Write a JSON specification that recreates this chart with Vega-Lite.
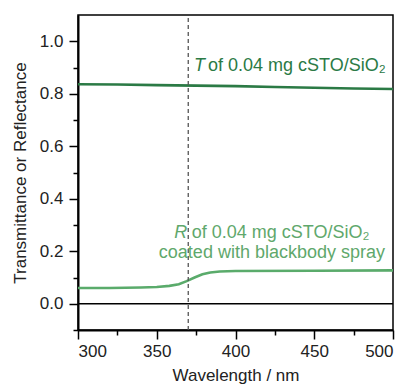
{
  "$schema": "https://vega.github.io/schema/vega-lite/v6.json",
  "width": 315,
  "height": 315,
  "autosize": "none",
  "padding": {"left": 78, "top": 15, "right": 18, "bottom": 57},
  "background": "white",
  "config": {
    "view": {"stroke": "black", "strokeWidth": 1.5},
    "font": "Liberation Sans",
    "axis": {
      "domainColor": "black",
      "domainWidth": 2,
      "tickColor": "black",
      "tickWidth": 1.5,
      "grid": false,
      "labelFont": "Liberation Sans",
      "labelFontSize": 17,
      "labelColor": "#222",
      "titleFont": "Liberation Sans",
      "titleFontSize": 17,
      "titleFontWeight": "normal",
      "titleColor": "#222"
    }
  },
  "datasets": {
    "spectra": [
      {"wavelength": 300, "value": 0.836, "series": "T"},
      {"wavelength": 325, "value": 0.835, "series": "T"},
      {"wavelength": 350, "value": 0.833, "series": "T"},
      {"wavelength": 375, "value": 0.831, "series": "T"},
      {"wavelength": 400, "value": 0.829, "series": "T"},
      {"wavelength": 425, "value": 0.826, "series": "T"},
      {"wavelength": 450, "value": 0.823, "series": "T"},
      {"wavelength": 475, "value": 0.820, "series": "T"},
      {"wavelength": 500, "value": 0.818, "series": "T"},
      {"wavelength": 300, "value": 0.060, "series": "R"},
      {"wavelength": 320, "value": 0.060, "series": "R"},
      {"wavelength": 340, "value": 0.062, "series": "R"},
      {"wavelength": 350, "value": 0.064, "series": "R"},
      {"wavelength": 358, "value": 0.068, "series": "R"},
      {"wavelength": 364, "value": 0.074, "series": "R"},
      {"wavelength": 369, "value": 0.086, "series": "R"},
      {"wavelength": 374, "value": 0.100, "series": "R"},
      {"wavelength": 379, "value": 0.112, "series": "R"},
      {"wavelength": 384, "value": 0.119, "series": "R"},
      {"wavelength": 390, "value": 0.123, "series": "R"},
      {"wavelength": 400, "value": 0.125, "series": "R"},
      {"wavelength": 450, "value": 0.126, "series": "R"},
      {"wavelength": 500, "value": 0.127, "series": "R"}
    ],
    "italic": [
      {"wavelength": 380.6, "value": 0.885, "text": "T", "color": "#2b7a45"},
      {"wavelength": 369.4, "value": 0.25, "text": "R", "color": "#5fa86c"}
    ],
    "plain": [
      {"wavelength": 382.5, "value": 0.885, "text": "of 0.04 mg cSTO/SiO₂", "color": "#2b7a45"},
      {"wavelength": 372.2, "value": 0.25, "text": "of 0.04 mg cSTO/SiO₂", "color": "#5fa86c"}
    ],
    "plainRight": [
      {"wavelength": 494.9, "value": 0.176, "text": "coated with blackbody spray", "color": "#5fa86c"}
    ]
  },
  "encoding": {
    "x": {
      "field": "wavelength",
      "type": "quantitative",
      "scale": {"domain": [300, 500], "nice": false, "zero": false},
      "axis": {
        "title": "Wavelength / nm",
        "values": [300, 325, 350, 375, 400, 425, 450, 475, 500],
        "labelExpr": "datum.value % 50 === 0 ? datum.label : ''",
        "tickSize": {"condition": {"test": "datum.value % 50 === 0", "value": 9}, "value": 5},
        "labelPadding": 4,
        "titlePadding": 8
      }
    },
    "y": {
      "field": "value",
      "type": "quantitative",
      "scale": {"domain": [-0.1, 1.1], "nice": false, "zero": false},
      "axis": {
        "title": "Transmittance or Reflectance",
        "values": [-0.1, 0, 0.1, 0.2, 0.3, 0.4, 0.5, 0.6, 0.7, 0.8, 0.9, 1.0],
        "labelExpr": "round(datum.value * 10) % 2 == 0 && datum.value > -0.05 ? format(datum.value, '.1f') : ''",
        "tickSize": {"condition": {"test": "abs(round(datum.value * 10)) % 2 == 0", "value": 9}, "value": 5},
        "labelPadding": 6,
        "titlePadding": 10
      }
    }
  },
  "layer": [
    {
      "data": {"name": "spectra"},
      "mark": {"type": "line", "strokeWidth": 2.6, "clip": true},
      "encoding": {
        "color": {
          "field": "series",
          "type": "nominal",
          "scale": {"domain": ["T", "R"], "range": ["#2b7a45", "#5aab6b"]},
          "legend": null
        }
      }
    },
    {
      "data": {"values": [{"wavelength": 300, "wavelength2": 500, "value": 0}]},
      "mark": {"type": "rule", "color": "black", "strokeWidth": 1.3},
      "encoding": {"x2": {"field": "wavelength2"}}
    },
    {
      "data": {"values": [{"wavelength": 370, "value": -0.1, "value2": 1.1}]},
      "mark": {"type": "rule", "color": "#555", "strokeWidth": 1.3, "strokeDash": [4, 3]},
      "encoding": {"y2": {"field": "value2"}}
    },
    {
      "data": {"name": "italic"},
      "mark": {"type": "text", "fontSize": 18, "baseline": "alphabetic", "align": "right", "fontStyle": "italic", "font": "Liberation Sans"},
      "encoding": {
        "text": {"field": "text"},
        "color": {"field": "color", "type": "nominal", "scale": null}
      }
    },
    {
      "data": {"name": "plain"},
      "mark": {"type": "text", "fontSize": 18, "baseline": "alphabetic", "align": "left", "font": "Liberation Sans"},
      "encoding": {
        "text": {"field": "text"},
        "color": {"field": "color", "type": "nominal", "scale": null}
      }
    },
    {
      "data": {"name": "plainRight"},
      "mark": {"type": "text", "fontSize": 18, "baseline": "alphabetic", "align": "right", "font": "Liberation Sans"},
      "encoding": {
        "text": {"field": "text"},
        "color": {"field": "color", "type": "nominal", "scale": null}
      }
    }
  ]
}
